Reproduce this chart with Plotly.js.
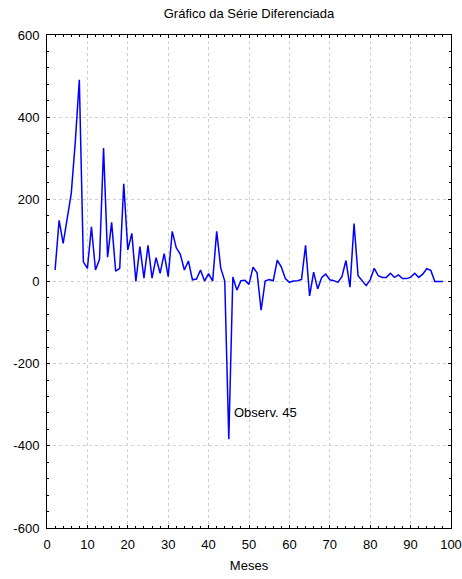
<!DOCTYPE html>
<html>
<head>
<meta charset="utf-8">
<script src="https://cdn.plot.ly/plotly-3.0.1.min.js"></script>
<style>html,body{margin:0;padding:0;background:#fff;}#chart{width:462px;height:579px;}</style>
</head>
<body>
<div id="chart"></div>
<script>
const meses = [2,3,4,5,6,7,8,9,10,11,12,13,14,15,16,17,18,19,20,21,22,23,24,25,26,27,28,29,30,
  31,32,33,34,35,36,37,38,39,40,41,42,43,44,45,46,47,48,49,50,51,52,53,54,55,56,57,58,59,60,
  61,62,63,64,65,66,67,68,69,70,71,72,73,74,75,76,77,78,79,80,81,82,83,84,85,86,87,88,89,90,
  91,92,93,94,95,96,97,98];
const diferencas = [28,149,93,149,214,340,491,48,32,133,28,54,325,59,144,25,32,238,77,117,0,85,8,88,8,58,20,68,12,
  122,82,66,28,50,4,6,28,1,19,1,122,33,1,-384,11,-21,2,3,-7,35,21,-70,1,5,2,52,35,7,-2,
  1,2,5,88,-35,23,-18,10,18,4,2,-2,12,51,-14,141,14,2,-10,4,32,14,10,10,20,10,16,7,7,10,
  20,10,18,31,27,0,0,0];
const xTicks = [0,10,20,30,40,50,60,70,80,90,100];
const yTicks = [-600,-400,-200,0,200,400,600];
const tituloGrafico = 'Gráfico da Série Diferenciada';
const tituloX = 'Meses';
const anotacaoTexto = 'Observ. 45';
const anotacaoX = 45.9, anotacaoY = -319;

const fontFam = 'Liberation Sans, Arial, sans-serif';
const axisCommon = {
  showline: true, linecolor: '#000', linewidth: 1, mirror: 'ticks',
  ticks: 'inside', ticklen: 3, tickcolor: '#000', tickwidth: 1,
  showgrid: true, gridcolor: '#cfcfcf', griddash: 'dot', gridwidth: 1,
  zeroline: false, ticklabelstandoff: 4,
  tickfont: {family: fontFam, size: 13, color: '#000'}
};
const layout = {
  width: 462, height: 579,
  margin: {l: 47, r: 11, t: 35, b: 51},
  paper_bgcolor: '#fff', plot_bgcolor: '#fff',
  showlegend: false,
  title: {text: tituloGrafico, font: {family: fontFam, size: 13, color: '#000'},
          xref: 'paper', x: 0.5, xanchor: 'center', yref: 'container', y: 1 - 13/579, yanchor: 'middle'},
  xaxis: Object.assign({}, axisCommon, {
    range: [0, 100], tickvals: xTicks, ticktext: xTicks.map(String),
    minor: {dtick: 2, ticks: 'inside', ticklen: 2, tickcolor: '#000', showgrid: false},
    title: {text: tituloX, font: {family: fontFam, size: 13, color: '#000'}, standoff: 10}
  }),
  yaxis: Object.assign({}, axisCommon, {
    range: [-600, 600], tickvals: yTicks, ticktext: yTicks.map(String),
    minor: {dtick: 40, ticks: 'inside', ticklen: 2, tickcolor: '#000', showgrid: false}
  }),
  annotations: [{x: anotacaoX, y: anotacaoY, xref: 'x', yref: 'y', text: anotacaoTexto,
    showarrow: false, xanchor: 'left', yanchor: 'middle',
    font: {family: fontFam, size: 13, color: '#000'}}]
};
const trace = {x: meses, y: diferencas, type: 'scatter', mode: 'lines',
  line: {color: '#0000ff', width: 1.5}};
Plotly.newPlot('chart', [trace], layout, {staticPlot: true, displayModeBar: false});
</script>
</body>
</html>
